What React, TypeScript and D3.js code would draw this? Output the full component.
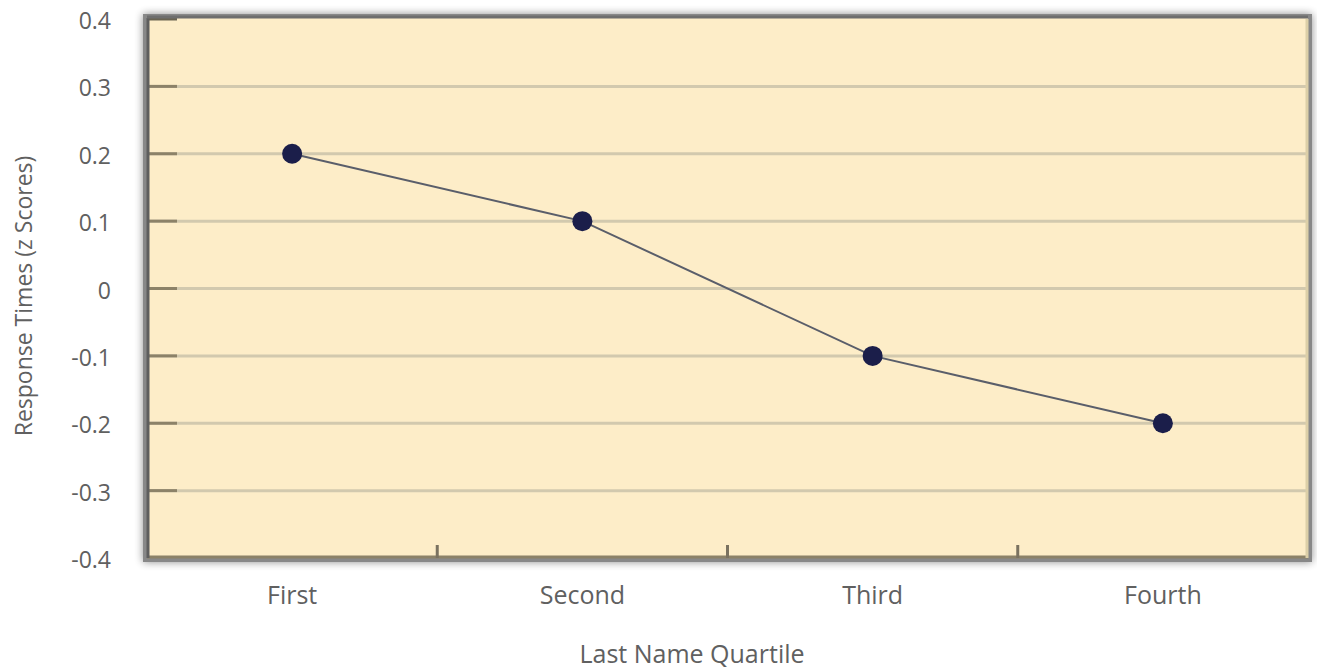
import React from "react";
import * as d3 from "d3";

const categories = ["First", "Second", "Third", "Fourth"];
const values = [0.2, 0.1, -0.1, -0.2];
const yTicks = [0.4, 0.3, 0.2, 0.1, 0, -0.1, -0.2, -0.3, -0.4];
const xTitle = "Last Name Quartile";
const yTitle = "Response Times (z Scores)";

export default function App() {
  const W = 1317, H = 671;
  const left = 147, right = 1308, top = 19, bottom = 558;
  const x = d3.scaleBand<string>().domain(categories).range([left, right]).padding(0);
  const y = d3.scaleLinear().domain([-0.4, 0.4]).range([bottom, top]);
  const line = d3.line<number>()
    .x((_, i) => (x(categories[i]) as number) + x.bandwidth() / 2)
    .y((d) => y(d));
  const fmt = (v: number) => (v === 0 ? "0" : v.toFixed(1));
  const boundaries = categories.slice(1).map((c) => x(c) as number);
  const font = "'Open Sans', 'DejaVu Sans', sans-serif";
  const txt = "#606060";

  return (
    <svg width={W} height={H} style={{ position: "absolute", left: 0, top: 0, background: "#fff" }}>
      <defs>
        <filter id="sh" x="-5%" y="-5%" width="110%" height="110%">
          <feGaussianBlur in="SourceAlpha" stdDeviation="4" />
          <feComponentTransfer><feFuncA type="linear" slope="0.45" /></feComponentTransfer>
          <feMerge><feMergeNode /><feMergeNode in="SourceGraphic" /></feMerge>
        </filter>
      </defs>
      <rect x={left - 4} y={top - 5} width={right - left + 8} height={bottom - top + 9}
        fill="#888" filter="url(#sh)" />
      <rect x={left} y={top - 1} width={right - left} height={bottom - top + 1} fill="#fdedc8" />
      {yTicks.slice(1, -1).map((t) => (
        <g key={t}>
          <line x1={left} x2={right} y1={y(t)} y2={y(t)} stroke="#d2c9ae" strokeWidth={3} />
          <line x1={left} x2={left + 30} y1={y(t)} y2={y(t)} stroke="#8c8268" strokeWidth={3} />
        </g>
      ))}
      <line x1={left} x2={left + 30} y1={top} y2={top} stroke="#6a6452" strokeWidth={3} />
      <line x1={left} x2={right} y1={bottom - 1} y2={bottom - 1} stroke="#8c8268" strokeWidth={3} />
      {boundaries.map((b) => (
        <line key={b} x1={b} x2={b} y1={bottom} y2={bottom - 13} stroke="#7a7260" strokeWidth={3} />
      ))}
      <line x1={left + 1} x2={left + 1} y1={top - 1} y2={bottom} stroke="#5e5e5e" strokeWidth={3} />
      <line x1={left} x2={right} y1={top - 2} y2={top - 2} stroke="#6e6e6e" strokeWidth={3} />
      <line x1={right - 1} x2={right - 1} y1={top} y2={bottom} stroke="#dccfa8" strokeWidth={3} />
      <path d={line(values) || ""} fill="none" stroke="#5a5e6a" strokeWidth={2} />
      {values.map((v, i) => (
        <circle key={i} cx={(x(categories[i]) as number) + x.bandwidth() / 2} cy={y(v)} r={10} fill="#1b1e4a" />
      ))}
      {yTicks.map((t) => (
        <text key={t} x={111} y={y(t) + 2} dy="0.35em" textAnchor="end" fontFamily={font} fontSize={23} fill={txt}>
          {fmt(t)}
        </text>
      ))}
      {categories.map((c) => (
        <text key={c} x={(x(c) as number) + x.bandwidth() / 2} y={604} textAnchor="middle" fontFamily={font} fontSize={25} fill={txt}>
          {c}
        </text>
      ))}
      <text x={692} y={663} textAnchor="middle" fontFamily={font} fontSize={25} fill={txt}>
        {xTitle}
      </text>
      <text transform={`translate(32, 296) rotate(-90)`} textAnchor="middle" fontFamily={font} fontSize={23} fill={txt}>
        {yTitle}
      </text>
    </svg>
  );
}
